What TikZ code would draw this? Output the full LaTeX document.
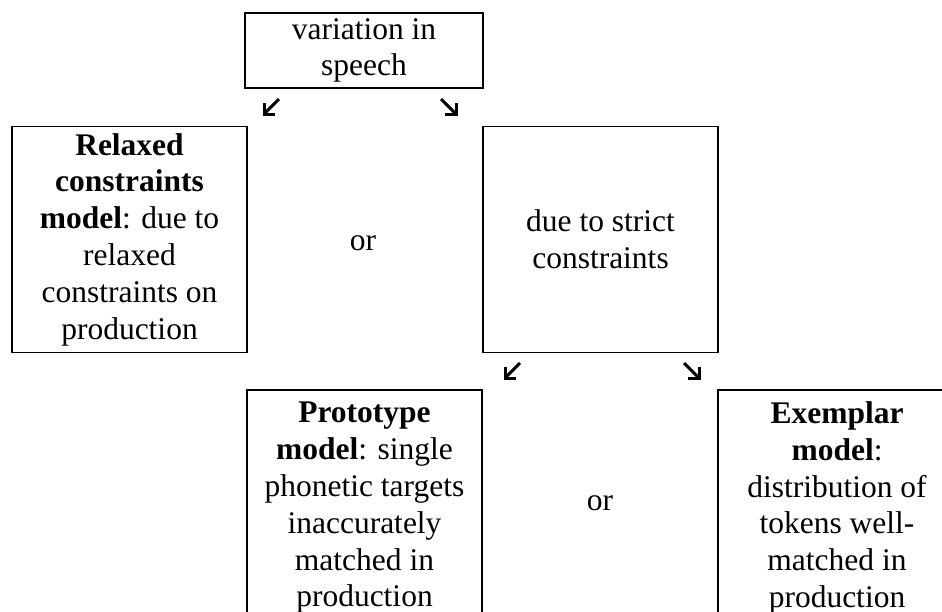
\documentclass[tikz,border=0pt]{standalone}
\usepackage{fontspec}
\setmainfont{Liberation Serif}
\begin{document}
\begin{tikzpicture}[x=1pt,y=-1pt,
  box/.style={draw=black,line width=1.8pt,inner sep=0pt,align=center,
    font=\fontsize{31.5}{36.8}\selectfont},
  ortext/.style={inner sep=0pt,font=\fontsize{31.5}{36.8}\selectfont},
  arrline/.style={line width=3pt,line cap=butt},
  arrhead/.style={line width=3pt,line cap=butt,line join=miter}]
\useasboundingbox (0,0) rectangle (942,611);
\clip (0,0) rectangle (942,611);
\fill[white] (0,0) rectangle (942,611);
% boxes
\node[box,minimum width=238pt,minimum height=75pt] (top) at (364,50.5) {variation in\\speech};
\node[box,minimum width=235pt,minimum height=226pt] (relaxed) at (129.5,239.5)
  {\textbf{Relaxed}\\\textbf{constraints}\\\textbf{model}: due to\\relaxed\\constraints on\\production};
\node[box,minimum width=235pt,minimum height=226pt] (strict) at (600.5,239.5)
  {due to strict\\constraints};
\node[box,minimum width=235pt,minimum height=236pt] (proto) at (364.5,508)
  {\textbf{Prototype}\\\textbf{model}: single\\phonetic targets\\inaccurately\\matched in\\production};
\node[box,minimum width=238pt,minimum height=236pt] (exemplar) at (837,508)
  {\textbf{Exemplar}\\\textbf{model}:\\distribution of\\tokens well-\\matched in\\production};
% or labels
\node[ortext] (or1) at (363,243) {or};
\node[ortext] (or2) at (600,503) {or};
% arrow end points (tail, head)
\coordinate (a1t) at (279,99);
\coordinate (a1h) at (264,114);
\coordinate (a2t) at (441,99);
\coordinate (a2h) at (456,114);
\coordinate (a3t) at (520,363);
\coordinate (a3h) at (505,378);
\coordinate (a4t) at (684,363);
\coordinate (a4h) at (699,378);
% arrows: shaft plus L-shaped barb
\draw[arrline] (a1t) -- (a1h);
\draw[arrhead] ([yshift=11pt]a1h) -- (a1h) -- ([xshift=11pt]a1h);
\draw[arrline] (a2t) -- (a2h);
\draw[arrhead] ([yshift=11pt]a2h) -- (a2h) -- ([xshift=-11pt]a2h);
\draw[arrline] (a3t) -- (a3h);
\draw[arrhead] ([yshift=11pt]a3h) -- (a3h) -- ([xshift=11pt]a3h);
\draw[arrline] (a4t) -- (a4h);
\draw[arrhead] ([yshift=11pt]a4h) -- (a4h) -- ([xshift=-11pt]a4h);
\end{tikzpicture}
\end{document}
